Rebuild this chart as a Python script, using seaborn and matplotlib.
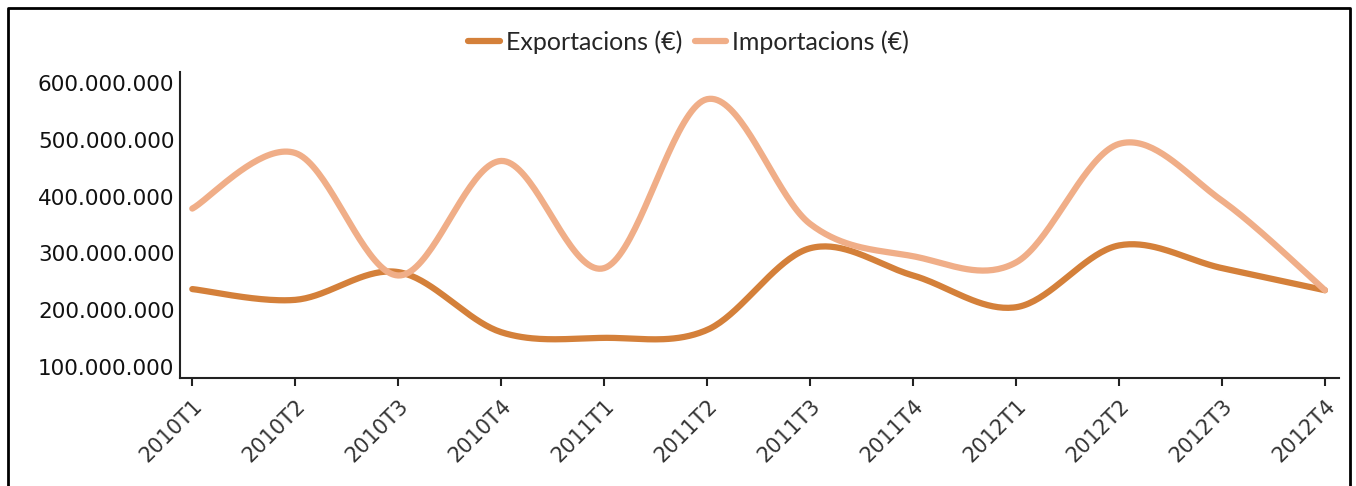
import numpy as np
import pandas as pd
import matplotlib
matplotlib.use("Agg")
import matplotlib.pyplot as plt
import seaborn as sns
from matplotlib.lines import Line2D
from matplotlib.ticker import FuncFormatter

quarters = ["2010T1", "2010T2", "2010T3", "2010T4",
            "2011T1", "2011T2", "2011T3", "2011T4",
            "2012T1", "2012T2", "2012T3", "2012T4"]
exportacions = [237e6, 218e6, 267e6, 161e6, 151e6, 165e6,
                309e6, 261e6, 205e6, 314e6, 274e6, 235e6]
importacions = [379e6, 477e6, 261e6, 463e6, 274e6, 572e6,
                352e6, 295e6, 284e6, 493e6, 393e6, 235e6]
series_names = ["Exportacions (€)", "Importacions (€)"]
colors = ["#D4803A", "#F0AE88"]


def smooth(y, steps=40):
    # catmull-rom curve through the points, like the "smoothed line" option
    y = np.asarray(y, dtype=float)
    x = np.arange(len(y), dtype=float)
    px = np.concatenate([[x[0]], x, [x[-1]]])
    py = np.concatenate([[y[0]], y, [y[-1]]])
    xs, ys = [], []
    t = np.linspace(0, 1, steps, endpoint=False)
    for i in range(1, len(px) - 2):
        for arr, out in ((px, xs), (py, ys)):
            p0, p1, p2, p3 = arr[i - 1], arr[i], arr[i + 1], arr[i + 2]
            out.extend(0.5 * (2 * p1 + (-p0 + p2) * t
                              + (2 * p0 - 5 * p1 + 4 * p2 - p3) * t ** 2
                              + (-p0 + 3 * p1 - 3 * p2 + p3) * t ** 3))
    xs.append(x[-1])
    ys.append(y[-1])
    return np.array(xs), np.array(ys)


frames = []
for name, vals in zip(series_names, [exportacions, importacions]):
    sx, sy = smooth(vals)
    frames.append(pd.DataFrame({"x": sx, "valor": sy, "serie": name}))
df = pd.concat(frames, ignore_index=True)

sns.set_style("white")
plt.rcParams["font.family"] = ["DejaVu Sans"]

fig = plt.figure(figsize=(13.56, 4.86), dpi=100)
ax = fig.add_axes([0.1327, 0.222, 0.855, 0.630])

sns.lineplot(data=df, x="x", y="valor", hue="serie", palette=colors,
             linewidth=4.5, sort=False, estimator=None, legend=False, ax=ax)

ax.set_xlim(-0.12, 11.14)
ax.set_ylim(80e6, 620e6)
ax.set_yticks([100e6, 200e6, 300e6, 400e6, 500e6, 600e6])
ax.yaxis.set_major_formatter(FuncFormatter(lambda v, p: "{:,.0f}".format(v).replace(",", ".")))
ax.set_xticks(range(len(quarters)))
ax.set_xticklabels(quarters, rotation=45, ha="right", rotation_mode="anchor")
ax.tick_params(axis="y", labelsize=15.5, length=0, pad=4, colors="#111111")
ax.tick_params(axis="x", labelsize=15, length=6, width=1.5, direction="out",
               color="#222222", labelcolor="#333333", pad=7, bottom=True)
ax.set_xlabel("")
ax.set_ylabel("")
for s in ["top", "right"]:
    ax.spines[s].set_visible(False)
for s in ["left", "bottom"]:
    ax.spines[s].set_color("#222222")
    ax.spines[s].set_linewidth(1.5)

handles = [Line2D([], [], color=c, linewidth=4.5) for c in colors]
fig.legend(handles, series_names, loc="center", bbox_to_anchor=(0.508, 0.913),
           ncol=2, frameon=False, handlelength=1.25, handletextpad=0.25,
           columnspacing=0.5, prop={"family": "Lato", "size": 18})

# outer frame of the picture
fig.add_artist(Line2D([0.006, 0.006, 0.9955, 0.9955], [0.0, 0.984, 0.984, 0.0],
                      transform=fig.transFigure, color="black", linewidth=2))

fig.savefig("out.png", dpi=100)
